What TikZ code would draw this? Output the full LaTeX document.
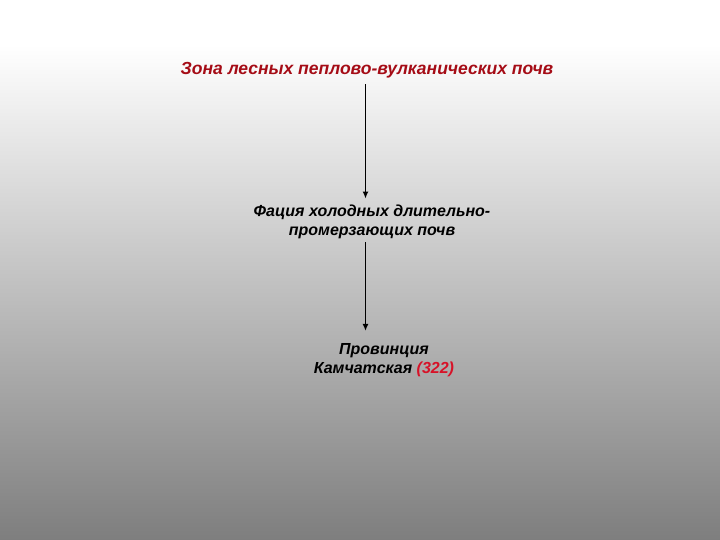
\documentclass[tikz,border=0pt]{standalone}
\usepackage{fontspec}
\setmainfont{Liberation Sans}
\usepackage{xcolor}
\usepackage{tikz}
\usetikzlibrary{arrows.meta,positioning}

\definecolor{zonared}{RGB}{165,12,22}
\definecolor{numred}{RGB}{215,18,40}
\definecolor{bottomgrey}{RGB}{126,126,126}

\tikzset{
    label/.style={
        font=\bfseries\itshape\fontsize{16}{19.5}\selectfont,
        align=center,
        inner sep=1pt
    },
    link/.style={
        -{Latex[length=7pt,width=6pt]},
        line width=1.5pt
    }
}

\begin{document}
\begin{tikzpicture}[x=1pt,y=-1pt]
                \useasboundingbox (0,0) rectangle (720,540);

                \fill[white] (0,0) rectangle (720,45);
                \shade[
                    top color=white,
                    bottom color=bottomgrey
                    ] (0,45) rectangle (720,540);

                \coordinate (axis) at (365.5,0);

                \node[
                    label,
                    font=\bfseries\itshape\fontsize{17.5}{20}\selectfont,
                    text=zonared
                    ] (zona) at (367,70) {Зона лесных пеплово-вулканических почв};

                \node[
                    label
                    ] (facia) at (372,222) {Фация холодных длительно-\\промерзающих почв};

                \node[
                    label
                    ] (prov) at (384,360) {Провинция\\Камчатская \textcolor{numred}{(322)}};

                \draw[link,shorten <=5pt,shorten >=5pt] (zona.south -| axis) to (facia.north -| axis);
                \draw[link,shorten <=2pt,shorten >=11pt] (facia.south -| axis) to (prov.north -| axis);

            \end{tikzpicture}
\end{document}
